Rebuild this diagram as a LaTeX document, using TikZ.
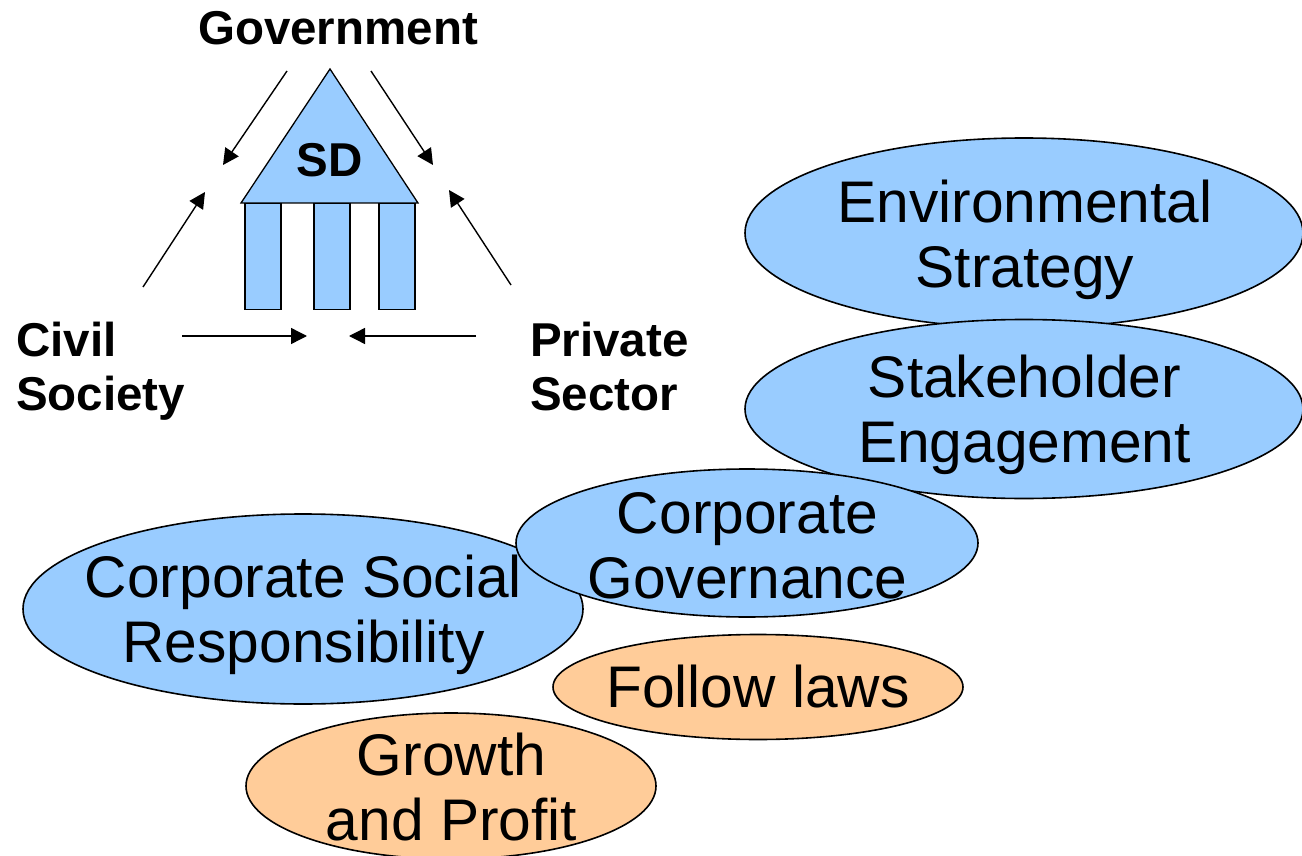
\documentclass[tikz,border=0pt]{standalone}
\usepackage{fontspec}
\setmainfont{Liberation Sans}
\usetikzlibrary{shapes.geometric,arrows.meta}
\definecolor{sky}{RGB}{153,204,255}
\definecolor{peach}{RGB}{255,204,153}
\tikzset{
 x=1pt,y=-1pt,
 oval/.style={ellipse,draw=black,line width=1.6pt,inner sep=0pt},
 ovaltext/.style={inner sep=0pt,align=center,font=\fontsize{58.7}{65}\selectfont},
 blueoval/.style={oval,fill=sky},
 orangeoval/.style={oval,fill=peach},
 pillar/.style={draw=black,fill=sky,line width=1.3pt,minimum width=36pt,inner sep=0pt,anchor=north},
 lab/.style={font=\bfseries\fontsize{47.5}{54}\selectfont,align=left,inner sep=0pt},
 arr/.style={draw=black,line width=1.4pt,-{Triangle[length=16pt,width=16pt]}},
 roofbox/.style={draw=black,fill=sky,line width=1.3pt}
}
\begin{document}
\begin{tikzpicture}
\useasboundingbox (0,0) rectangle (1302,856);
% pillars
\node[pillar,minimum height=106.5pt] (p1) at (263,202.5) {};
\node[pillar,minimum height=106.5pt] (p2) at (332,202.5) {};
\node[pillar,minimum height=106.5pt] (p3) at (397,202.5) {};
\draw[roofbox] (330,69) coordinate (apex) -- (418,203) coordinate (rr) -- (241,203) coordinate (rl) -- cycle;
\node[font=\bfseries\fontsize{47.5}{54}\selectfont,inner sep=0pt] (sd) at (329.5,160) {SD};
% labels
\node[lab] (gov) at (338,28) {Government};
\node[lab,anchor=west] (civ) at (16,371) {Civil\\Society};
\node[lab,anchor=west] (priv) at (530,367) {Private\\Sector};
% arrows
\coordinate (a1s) at (287,71); \coordinate (a1e) at (223,165);
\coordinate (a2s) at (371,71); \coordinate (a2e) at (433,165);
\coordinate (a3s) at (143,287); \coordinate (a3e) at (205,192);
\coordinate (a4s) at (511,285); \coordinate (a4e) at (449,190);
\coordinate (a5s) at (182,336); \coordinate (a5e) at (307,336);
\coordinate (a6s) at (476,336); \coordinate (a6e) at (349,336);
\draw[arr] (a1s) -- (a1e);
\draw[arr] (a2s) -- (a2e);
\draw[arr] (a3s) -- (a3e);
\draw[arr] (a4s) -- (a4e);
\draw[arr] (a5s) -- (a5e);
\draw[arr] (a6s) -- (a6e);
% ovals
\node[blueoval,minimum width=558pt,minimum height=190pt,
  label={[ovaltext,name=envt,xshift=1pt,yshift=-6.5pt]center:{Environmental\\Strategy}}] (env) at (1024,233) {};
\node[blueoval,minimum width=558pt,minimum height=179pt,
  label={[ovaltext,name=stkt,xshift=0.5pt,yshift=-6pt]center:{Stakeholder\\Engagement}}] (stk) at (1024,409) {};
\node[blueoval,minimum width=560pt,minimum height=190pt,
  label={[ovaltext,name=csrt,xshift=0.5pt,yshift=-6pt]center:{Corporate Social\\Responsibility}}] (csr) at (303,609) {};
\node[blueoval,minimum width=462pt,minimum height=148pt,
  label={[ovaltext,name=cgt,xshift=0.5pt,yshift=-2.5pt]center:{Corporate\\Governance}}] (cg) at (747,543) {};
\node[orangeoval,minimum width=410pt,minimum height=105pt,
  label={[ovaltext,name=lawt]center:{Follow laws}}] (law) at (758,687) {};
\node[orangeoval,minimum width=410pt,minimum height=146pt,
  label={[ovaltext,name=gpt,xshift=0.5pt,yshift=-1pt]center:{Growth\\and Profit}}] (gp) at (451,786) {};
\end{tikzpicture}
\end{document}
